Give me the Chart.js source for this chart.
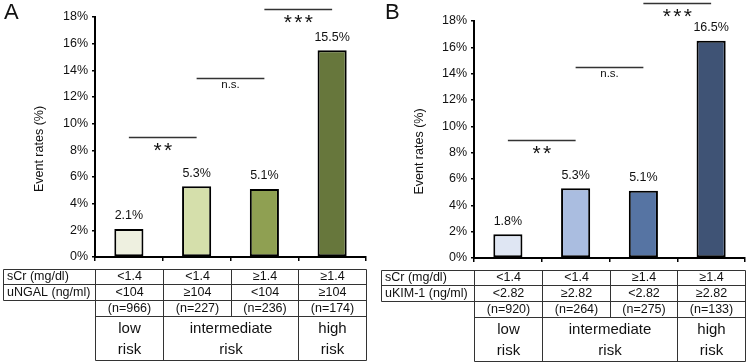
<!DOCTYPE html>
<html>
<head>
<meta charset="utf-8">
<script src="https://cdn.jsdelivr.net/npm/chart.js@4"></script>
<style>
  body { margin: 0; background: #fff; }
  #wrap { position: relative; width: 750px; height: 363px; }
  canvas { position: absolute; top: 0; }
</style>
</head>
<body>
<div id="wrap">
  <canvas id="chartA" width="375" height="363" style="left:0"></canvas>
  <canvas id="chartB" width="375" height="363" style="left:375px"></canvas>
</div>
<script>
// dados
const groups = ['g1', 'g2', 'g3', 'g4'];
const ratesA = [2.1, 5.3, 5.1, 15.5];
const ratesB = [1.8, 5.3, 5.1, 16.5];
const colorsA = ['#eef0e0', '#d5dfab', '#8fa052', '#67773c'];
const colorsB = ['#dfe6f3', '#aabde0', '#5674a3', '#3f5375'];
const yTicks = [0, 2, 4, 6, 8, 10, 12, 14, 16, 18];

const sCrRow = ['<1.4', '<1.4', '≥1.4', '≥1.4'];
const ngalRow = ['<104', '≥104', '<104', '≥104'];
const kimRow = ['<2.82', '≥2.82', '<2.82', '≥2.82'];
const nA = ['(n=966)', '(n=227)', '(n=236)', '(n=174)'];
const nB = ['(n=920)', '(n=264)', '(n=275)', '(n=133)'];
const riskLabels = ['low', 'intermediate', 'high'];
const riskSpans = [1, 2, 1];

// barras de significância: par de grupos, altura (%), texto
const sigPairs = [[0, 1], [1, 2], [2, 3]];
const sigText = ['**', 'n.s.', '***'];
const sigLevelA = [9.0, 13.4, 18.6];
const sigLevelB = [9.0, 14.5, 19.4];

const FONT = '"Liberation Sans", Arial, sans-serif';

function painelPlugin(p) {
  return {
    id: 'painel' + p.letter,
    afterDraw(chart) {
      const { ctx, chartArea, scales: { x, y } } = chart;
      ctx.save();
      ctx.fillStyle = '#111';

      // letra do painel
      ctx.font = '22px ' + FONT;
      ctx.textAlign = 'left';
      ctx.textBaseline = 'top';
      ctx.fillText(p.letter, p.letterX, 2);

      // título do eixo y
      ctx.save();
      ctx.translate(p.titleX, (chartArea.top + chartArea.bottom) / 2 + 12);
      ctx.rotate(-Math.PI / 2);
      ctx.font = '12.5px ' + FONT;
      ctx.textAlign = 'center';
      ctx.textBaseline = 'middle';
      ctx.fillText('Event rates (%)', 0, 0);
      ctx.restore();

      // rótulos de valor
      ctx.font = '12.5px ' + FONT;
      ctx.textAlign = 'center';
      ctx.textBaseline = 'middle';
      p.rates.forEach((v, i) => {
        ctx.fillText(v.toFixed(1) + '%', x.getPixelForValue(i), y.getPixelForValue(v) - 13);
      });

      // barras de significância
      sigPairs.forEach((pair, k) => {
        const x1 = x.getPixelForValue(pair[0]);
        const x2 = x.getPixelForValue(pair[1]);
        const yy = Math.round(y.getPixelForValue(p.sig[k])) + 0.5;
        ctx.strokeStyle = '#333';
        ctx.lineWidth = 1.5;
        ctx.beginPath();
        ctx.moveTo(x1, yy);
        ctx.lineTo(x2, yy);
        ctx.stroke();
        const cx = (x1 + x2) / 2;
        const t = sigText[k];
        if (t === 'n.s.') {
          ctx.font = '11.5px ' + FONT;
          ctx.textBaseline = 'middle';
          ctx.fillText(t, cx, yy + 6);
        } else {
          ctx.font = '21px ' + FONT;
          ctx.textBaseline = 'alphabetic';
          const m = ctx.measureText('*');
          const off = (m.actualBoundingBoxAscent - m.actualBoundingBoxDescent) / 2;
          const pitch = 10.5;
          for (let j = 0; j < t.length; j++) {
            const ax = cx + (j - (t.length - 1) / 2) * pitch;
            ctx.fillText('*', ax, yy + 9 + off);
          }
        }
      });

      // tabela
      const edges = [];
      for (let i = 0; i <= groups.length; i++) edges.push(Math.round(x.getPixelForValue(i - 0.5)) + 0.5);
      const b = chartArea.bottom;
      const r = [12, 27, 43, 59, 103].map(d => Math.round(b + d) + 0.5);
      const left = p.tableLeft + 0.5;
      ctx.strokeStyle = '#333';
      ctx.lineWidth = 1;
      const line = (x1, y1, x2, y2) => { ctx.beginPath(); ctx.moveTo(x1, y1); ctx.lineTo(x2, y2); ctx.stroke(); };
      // linhas horizontais
      line(left, r[0], edges[4], r[0]);
      line(left, r[1], edges[4], r[1]);
      line(left, r[2], edges[4], r[2]);
      line(edges[0], r[3], edges[4], r[3]);
      line(edges[0], r[4], edges[4], r[4]);
      // verticais
      line(left, r[0], left, r[2]);
      line(edges[0], r[0], edges[0], r[4]);
      line(edges[4], r[0], edges[4], r[4]);
      for (let i = 1; i < 4; i++) line(edges[i], r[0], edges[i], r[3]);
      let acc = 0;
      riskSpans.forEach((s, k) => {
        if (k > 0) line(edges[acc], r[3], edges[acc], r[4]);
        acc += s;
      });

      ctx.font = '12.5px ' + FONT;
      ctx.textBaseline = 'middle';
      ctx.textAlign = 'left';
      ctx.fillText('sCr (mg/dl)', p.tableLeft + 4, (r[0] + r[1]) / 2);
      ctx.fillText(p.markerLabel, p.tableLeft + 4, (r[1] + r[2]) / 2);
      ctx.textAlign = 'center';
      [sCrRow, p.markerRow, p.nRow].forEach((row, k) => {
        row.forEach((txt, i) => {
          ctx.fillText(txt, (edges[i] + edges[i + 1]) / 2, (r[k] + r[k + 1]) / 2);
        });
      });
      ctx.font = '15px ' + FONT;
      acc = 0;
      riskLabels.forEach((lab, k) => {
        const cx = (edges[acc] + edges[acc + riskSpans[k]]) / 2;
        ctx.fillText(lab, cx, r[3] + 12);
        ctx.fillText('risk', cx, r[3] + 33);
        acc += riskSpans[k];
      });
      ctx.restore();
    }
  };
}

function montarGrafico(id, p) {
  return new Chart(document.getElementById(id), {
    type: 'bar',
    data: {
      labels: groups,
      datasets: [{
        data: p.rates,
        backgroundColor: p.colors,
        borderColor: '#000',
        borderWidth: 2,
        borderSkipped: false,
        barPercentage: 0.43,
        categoryPercentage: 1
      }]
    },
    options: {
      responsive: false,
      devicePixelRatio: 1,
      animation: false,
      events: [],
      layout: { padding: { left: 0, top: p.top, right: p.right, bottom: 363 - p.bottom - 5 } },
      plugins: { legend: { display: false }, tooltip: { enabled: false } },
      scales: {
        x: {
          offset: true,
          grid: { offset: true, drawOnChartArea: false, tickLength: 4, color: '#000', lineWidth: 1.5 },
          border: { color: '#000', width: 2 },
          ticks: { display: false },
          afterFit: s => { s.height = 5; }
        },
        y: {
          min: 0,
          max: 18,
          afterBuildTicks: s => { s.ticks = yTicks.map(v => ({ value: v })); },
          grid: { drawOnChartArea: false, tickLength: 3, color: '#000', lineWidth: 1.5 },
          border: { color: '#000', width: 2 },
          ticks: {
            padding: 4,
            color: '#111',
            font: { family: FONT, size: 12.5 },
            callback: v => v + '%'
          },
          afterFit: s => { s.width = p.axisX; }
        }
      }
    },
    plugins: [painelPlugin(p)]
  });
}

montarGrafico('chartA', {
  letter: 'A', letterX: 4, titleX: 40, axisX: 95, top: 17, right: 9, bottom: 257,
  rates: ratesA, colors: colorsA, sig: sigLevelA,
  tableLeft: 3, markerLabel: 'uNGAL (ng/ml)', markerRow: ngalRow, nRow: nA
});
montarGrafico('chartB', {
  letter: 'B', letterX: 10, titleX: 45, axisX: 99, top: 21, right: 5, bottom: 258,
  rates: ratesB, colors: colorsB, sig: sigLevelB,
  tableLeft: 6, markerLabel: 'uKIM-1 (ng/ml)', markerRow: kimRow, nRow: nB
});
</script>
</body>
</html>
